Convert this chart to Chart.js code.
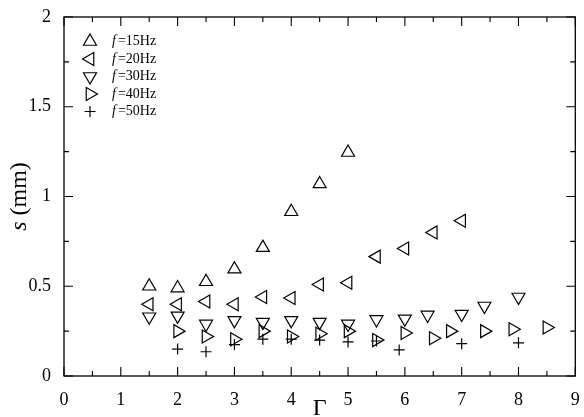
<!DOCTYPE html>
<html lang="en">
<head>
  <meta charset="UTF-8" />
  <title>s vs Gamma</title>
  <script src="https://cdn.jsdelivr.net/npm/chart.js"></script>
  <style>
    html, body { margin: 0; padding: 0; background: #fff; }
    #wrap { width: 584px; height: 417px; }
  </style>
</head>
<body>
  <div id="wrap"><canvas id="sChart" width="584" height="417"></canvas></div>

  <script>
    // values (Gamma, s in mm)
    const f15x = [1.5, 2, 2.5, 3, 3.5, 4, 4.5, 5];
    const f15y = [0.50, 0.49, 0.525, 0.595, 0.715, 0.915, 1.07, 1.245];

    const f20x = [1.5, 2, 2.5, 3, 3.5, 4, 4.5, 5, 5.5, 6, 6.5, 7];
    const f20y = [0.40, 0.40, 0.415, 0.40, 0.44, 0.435, 0.51, 0.52, 0.665, 0.71, 0.80, 0.865];

    const f30x = [1.5, 2, 2.5, 3, 3.5, 4, 4.5, 5, 5.5, 6, 6.4, 7, 7.4, 8];
    const f30y = [0.33, 0.335, 0.29, 0.31, 0.30, 0.31, 0.30, 0.29, 0.315, 0.318, 0.34, 0.345, 0.39, 0.44];

    const f40x = [2, 2.5, 3, 3.5, 4, 4.5, 5, 5.5, 6, 6.5, 6.8, 7.4, 7.9, 8.5];
    const f40y = [0.25, 0.22, 0.205, 0.25, 0.22, 0.235, 0.25, 0.20, 0.24, 0.21, 0.25, 0.25, 0.26, 0.27];

    const f50x = [2, 2.5, 3, 3.5, 4, 4.5, 5, 5.5, 5.9, 7, 8];
    const f50y = [0.15, 0.135, 0.175, 0.205, 0.205, 0.20, 0.19, 0.195, 0.145, 0.18, 0.185];

    const freqLabels = ['15Hz', '20Hz', '30Hz', '40Hz', '50Hz'];
    const xTickLabels = ['0', '1', '2', '3', '4', '5', '6', '7', '8', '9'];
    const yTickLabels = ['0', '0.5', '1', '1.5', '2'];

    const serif = '"Liberation Serif", "DejaVu Serif", serif';

    function pts(xs, ys) {
      return xs.map((x, i) => ({ x: x, y: ys[i] }));
    }

    function series(label, xs, ys, style, rot, r) {
      return {
        label: label,
        data: pts(xs, ys),
        showLine: false,
        pointStyle: style,
        rotation: rot,
        pointRadius: r,
        pointHoverRadius: r,
        pointBorderWidth: 1.2,
        borderColor: '#000',
        backgroundColor: 'rgba(0,0,0,0)'
      };
    }

    const datasets = [
      series(freqLabels[0], f15x, f15y, 'triangle', 0, 7.5),
      series(freqLabels[1], f20x, f20y, 'triangle', 270, 7.5),
      series(freqLabels[2], f30x, f30y, 'triangle', 180, 7.5),
      series(freqLabels[3], f40x, f40y, 'triangle', 90, 7.5),
      series(freqLabels[4], f50x, f50y, 'cross', 0, 5.5)
    ];

    // frame with inward ticks on all four sides, y title, legend
    const framePlugin = {
      id: 'frame',
      afterDraw(chart) {
        const ctx = chart.ctx;
        const a = chart.chartArea;
        const xs = chart.scales.x, ys = chart.scales.y;
        ctx.save();
        ctx.strokeStyle = '#000';
        ctx.lineWidth = 1.3;
        ctx.strokeRect(a.left, a.top, a.right - a.left, a.bottom - a.top);

        ctx.lineWidth = 1.1;
        ctx.beginPath();
        xs.ticks.forEach(t => {
          const px = xs.getPixelForValue(t.value);
          const len = Number.isInteger(t.value) ? 9 : 5;
          ctx.moveTo(px, a.bottom); ctx.lineTo(px, a.bottom - len);
          ctx.moveTo(px, a.top); ctx.lineTo(px, a.top + len);
        });
        ys.ticks.forEach(t => {
          const py = ys.getPixelForValue(t.value);
          const len = Math.abs(t.value * 2 - Math.round(t.value * 2)) < 1e-6 ? 9 : 5;
          ctx.moveTo(a.left, py); ctx.lineTo(a.left + len, py);
          ctx.moveTo(a.right, py); ctx.lineTo(a.right - len, py);
        });
        ctx.stroke();

        // y title: italic s + (mm)
        ctx.fillStyle = '#000';
        ctx.translate(20, (a.top + a.bottom) / 2);
        ctx.rotate(-Math.PI / 2);
        ctx.textBaseline = 'middle';
        ctx.font = 'italic 24px ' + serif;
        const w1 = ctx.measureText('s').width;
        ctx.font = '24px ' + serif;
        const w2 = ctx.measureText(' (mm)').width;
        let x0 = -(w1 + w2) / 2;
        ctx.font = 'italic 24px ' + serif;
        ctx.fillText('s', x0, 0);
        ctx.font = '24px ' + serif;
        ctx.fillText(' (mm)', x0 + w1, 0);
        ctx.restore();

        // legend
        ctx.save();
        ctx.strokeStyle = '#000';
        ctx.fillStyle = '#000';
        ctx.lineWidth = 1.2;
        ctx.textBaseline = 'middle';
        chart.data.datasets.forEach((ds, i) => {
          const cy = 41.5 + i * 17.5;
          const cx = 90;
          drawMarker(ctx, ds.pointStyle, ds.rotation, cx, cy, ds.pointRadius);
          ctx.font = 'italic 14px ' + serif;
          ctx.fillText('f', 112, cy);
          const fw = ctx.measureText('f').width;
          ctx.font = '14px ' + serif;
          ctx.fillText('=' + ds.label, 112 + fw + 2, cy);
        });
        ctx.restore();
      }
    };

    function drawMarker(ctx, style, rot, x, y, r) {
      ctx.beginPath();
      if (style === 'cross') {
        ctx.moveTo(x - r, y); ctx.lineTo(x + r, y);
        ctx.moveTo(x, y - r); ctx.lineTo(x, y + r);
      } else {
        let rad = rot * Math.PI / 180;
        for (let k = 0; k < 3; k++) {
          const px = x + Math.sin(rad) * r, py = y - Math.cos(rad) * r;
          if (k === 0) ctx.moveTo(px, py); else ctx.lineTo(px, py);
          rad += 2 * Math.PI / 3;
        }
        ctx.closePath();
      }
      ctx.stroke();
    }

    new Chart(document.getElementById('sChart'), {
      type: 'scatter',
      data: { datasets: datasets },
      options: {
        responsive: false,
        animation: false,
        events: [],
        layout: { padding: { left: 0, right: 6, top: 17, bottom: 0 } },
        plugins: {
          legend: { display: false },
          tooltip: { enabled: false }
        },
        scales: {
          x: {
            type: 'linear',
            min: 0,
            max: 9,
            grid: { display: false },
            border: { display: false },
            ticks: {
              stepSize: 0.5,
              autoSkip: false,
              maxRotation: 0,
              padding: 5,
              color: '#000',
              font: { family: serif, size: 18 },
              callback: v => Number.isInteger(v) ? xTickLabels[v] : ''
            },
            title: {
              display: true,
              text: 'Γ',
              color: '#000',
              font: { family: serif, size: 24 },
              padding: { top: 0, bottom: -6 }
            },
            afterFit(scale) {
              scale.height = 41;
              scale.paddingRight = 0;
            }
          },
          y: {
            type: 'linear',
            min: 0,
            max: 2,
            grid: { display: false },
            border: { display: false },
            ticks: {
              stepSize: 0.25,
              autoSkip: false,
              padding: 5,
              color: '#000',
              font: { family: serif, size: 18 },
              callback: v => {
                const k = v * 2;
                return Math.abs(k - Math.round(k)) < 1e-6 ? yTickLabels[Math.round(k)] : '';
              }
            },
            afterFit(scale) { scale.width = 64; }
          }
        }
      },
      plugins: [framePlugin]
    });
  </script>
</body>
</html>
